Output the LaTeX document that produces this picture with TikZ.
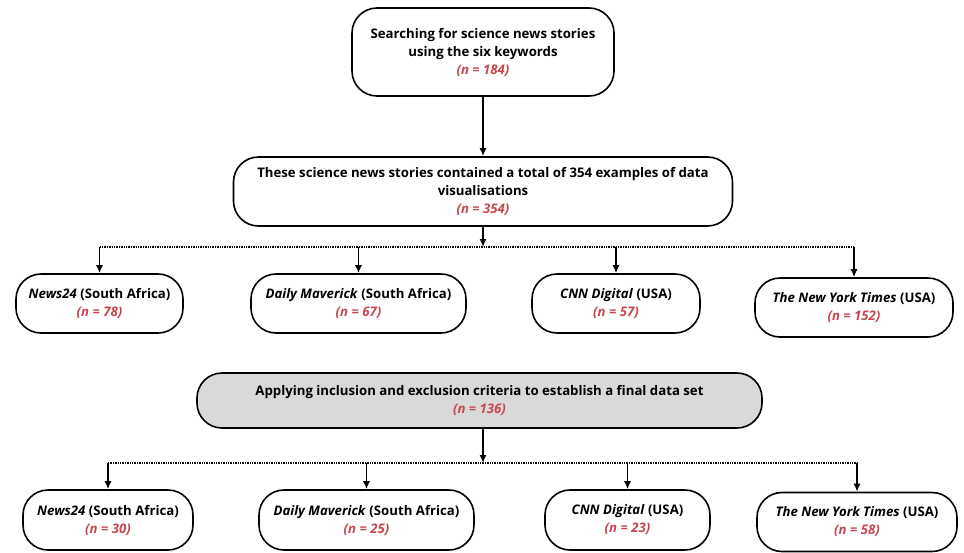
\documentclass[tikz,border=0pt]{standalone}
\usepackage{fontspec}
\setmainfont{Open Sans}
\usepackage{tikz}
\usetikzlibrary{arrows.meta,positioning,calc}
\definecolor{CountRed}{HTML}{C8474F}
\definecolor{PaleGrey}{HTML}{D9D9D9}
\newcommand{\nval}[1]{\\{\color{CountRed}\itshape (\textit{n} = #1)}}
\tikzset{
  pillbox/.style={draw=black, rounded corners=25pt, line width=1.6pt, fill=white, align=center, inner sep=2pt, font=\fontsize{13.2}{18}\selectfont\bfseries},
  greybox/.style={pillbox, fill=PaleGrey},
  arrow/.style={-{Latex[length=8pt,width=7pt]}, line width=1.5pt, draw=black},
  dotline/.style={densely dotted, line width=1.4pt, draw=black}
}

\begin{document}
\begin{tikzpicture}[x=1pt,y=-1pt]
  \useasboundingbox (0,0) rectangle (964,552);

  \node[pillbox, minimum width=262pt, minimum height=88pt] (search) at (483,52) {Searching for science news stories\\using the six keywords\nval{184}};
  \node[pillbox, minimum width=499pt, minimum height=69pt] (total) at (483,191.5) {These science news stories contained a total of 354 examples of data\\visualisations\nval{354}};

  \node[pillbox, minimum width=167pt, minimum height=59pt] (newsA) at (99.5,303.5) {\textit{News24} (South Africa)\nval{78}};
  \node[pillbox, minimum width=215pt, minimum height=59pt] (maverickA) at (358.5,303.5) {\textit{Daily Maverick} (South Africa)\nval{67}};
  \node[pillbox, minimum width=168pt, minimum height=59pt] (cnnA) at (616,303.5) {\textit{CNN Digital} (USA)\nval{57}};
  \node[pillbox, minimum width=198pt, minimum height=59pt] (nytA) at (854,307.5) {\textit{The New York Times} (USA)\nval{152}};

  \node[greybox, minimum width=565pt, minimum height=55pt] (criteria) at (479.5,400.5) {Applying inclusion and exclusion criteria to establish a final data set\nval{136}};

  \node[pillbox, minimum width=170pt, minimum height=60pt] (newsB) at (108,520) {\textit{News24} (South Africa)\nval{30}};
  \node[pillbox, minimum width=215pt, minimum height=60pt] (maverickB) at (366.5,520) {\textit{Daily Maverick} (South Africa)\nval{25}};
  \node[pillbox, minimum width=165pt, minimum height=60pt] (cnnB) at (627.5,520) {\textit{CNN Digital} (USA)\nval{23}};
  \node[pillbox, minimum width=200pt, minimum height=59pt] (nytB) at (857,522) {\textit{The New York Times} (USA)\nval{58}};

  % split points
  \coordinate (splitA) at (483,247);
  \coordinate (splitB) at (483,463);

  \draw[arrow] (search) -- (total);
  \draw[arrow] (total.south) -- (splitA);
  \draw[dotline] (newsA.north |- splitA) -- (nytA.north |- splitA);
  \foreach \n in {newsA,maverickA,cnnA,nytA}
    \draw[arrow] (\n.north |- splitA) -- (\n.north);

  \draw[arrow] (criteria.south -| splitB) -- (splitB);
  \draw[dotline] (newsB.north |- splitB) -- (nytB.north |- splitB);
  \foreach \n in {newsB,maverickB,cnnB,nytB}
    \draw[arrow] (\n.north |- splitB) -- (\n.north);
\end{tikzpicture}
\end{document}
